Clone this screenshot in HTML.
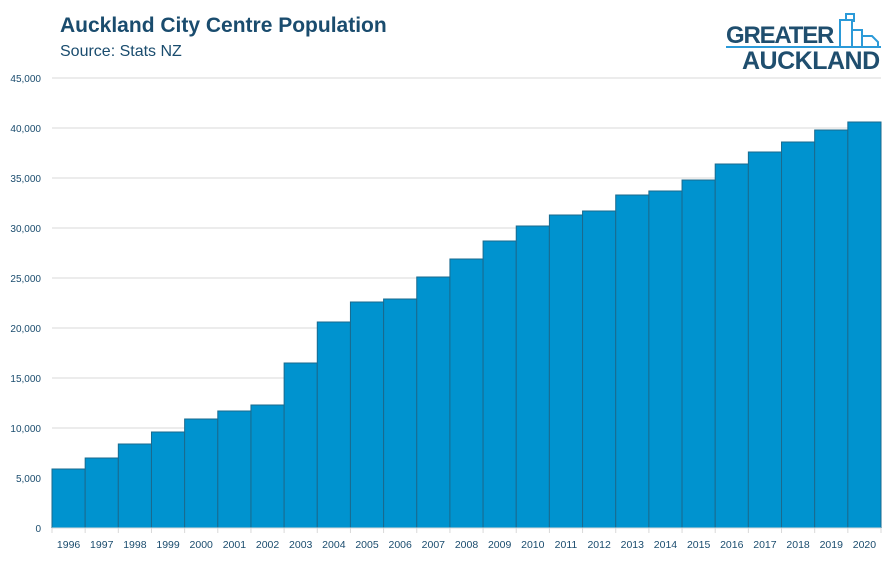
<!DOCTYPE html>
<html><head><meta charset="utf-8"><style>
body{margin:0;width:895px;height:559px;background:#fff;font-family:"Liberation Sans",sans-serif;overflow:hidden}
</style></head><body>
<svg width="895" height="559">
<text x="60" y="32" font-size="21" font-weight="bold" fill="#1a4c6e">Auckland City Centre Population</text>
<text x="60" y="56" font-size="16" fill="#1a4c6e">Source: Stats NZ</text>
<g>
<text x="726" y="43" font-size="24" font-weight="bold" fill="#1f4e6e" letter-spacing="-1.2">GREATER</text>
<rect x="726" y="46" width="155" height="2" fill="#2b9ad8"/>
<path d="M840 46 V20 h12 v26 M846 20 V14 h8 v8 M852 30 h10 v16 M862 36 h10 l6 6 v4" fill="none" stroke="#2b9ad8" stroke-width="2"/>
<text x="742" y="69" font-size="25" font-weight="bold" fill="#1f4e6e" letter-spacing="-0.5">AUCKLAND</text>
</g>
<g id="grid"></g><g id="bars"></g><g id="axes"></g>
</svg>
<script>
const years=['1996','1997','1998','1999','2000','2001','2002','2003','2004','2005','2006','2007','2008','2009','2010','2011','2012','2013','2014','2015','2016','2017','2018','2019','2020'];
const population=[5900,7000,8400,9600,10900,11700,12300,16500,20600,22600,22900,25100,26900,28700,30200,31300,31700,33300,33700,34800,36400,37600,38600,39800,40600];
const yTicks=[0,5000,10000,15000,20000,25000,30000,35000,40000,45000];
const NS='http://www.w3.org/2000/svg';
const x0=52,x1=881,yB=528,yT=78,yMax=45000;
const bw=(x1-x0)/years.length;
const yS=v=>yB-(v/yMax)*(yB-yT);
const xS=i=>x0+i*bw;
function mk(t,a,p){const e=document.createElementNS(NS,t);for(const k in a)e.setAttribute(k,a[k]);p.appendChild(e);return e;}
const g=document.getElementById('grid'),b=document.getElementById('bars'),ax=document.getElementById('axes');
yTicks.forEach(v=>{
 if(v>0){const l=mk('line',{x1:x0,x2:x1,y1:yS(v),y2:yS(v),stroke:'#d9d9d9','stroke-width':1},g);
 
 }
 const t=mk('text',{x:41,y:yS(v)+4,'text-anchor':'end','font-size':10,fill:'#1a4c6e'},ax);
 t.textContent=v.toLocaleString('en-US');
 
 
});
population.forEach((v,i)=>{
 const r=mk('rect',{x:xS(i),y:yS(v),width:bw,height:yB-yS(v),fill:'#0093cf',stroke:'#1a6a8e','stroke-width':1},b);
 
 
 const t=mk('text',{x:xS(i)+bw/2,y:548,'text-anchor':'middle','font-size':10.5,fill:'#1a4c6e'},ax);
 t.textContent=years[i];
 
 
});
for(let i=0;i<=years.length;i++){mk('line',{x1:xS(i),x2:xS(i),y1:yB,y2:yB+5,stroke:'#d9d9d9'},ax);}
const a=mk('line',{x1:x0,x2:x1,y1:yB,y2:yB,stroke:'#d9d9d9'},ax);


</script>
</body></html>
